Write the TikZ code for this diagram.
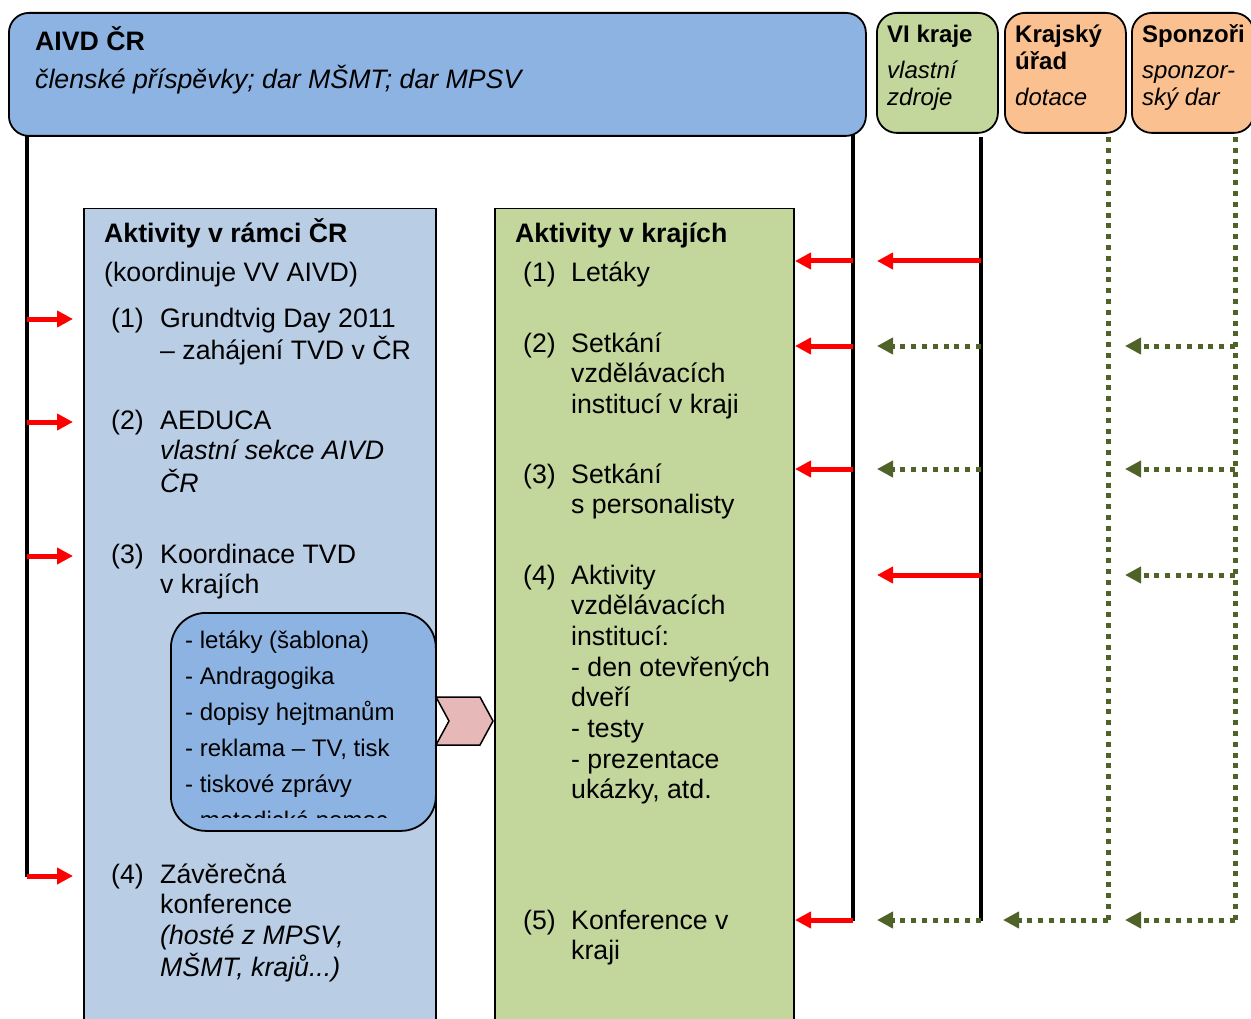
\documentclass[tikz,border=0pt]{standalone}
\usepackage{fontspec}
\setmainfont{Liberation Sans}
\usetikzlibrary{arrows.meta}
\definecolor{topblue}{HTML}{8DB3E2}
\definecolor{lightblue}{HTML}{B9CDE5}
\definecolor{lgreen}{HTML}{C3D69B}
\definecolor{lorange}{HTML}{FAC090}
\definecolor{chev}{HTML}{E6B9B8}
\definecolor{arrred}{HTML}{FF0000}
\definecolor{arrgreen}{HTML}{4F6228}
\newcommand\blk[1]{\begin{tabular}[t]{@{}l@{}}#1\end{tabular}}
\begin{document}
\begin{tikzpicture}[x=1pt,y=-1pt,
  rbox/.style={draw=black, line width=1.8pt, rounded corners=20pt, anchor=north west, inner sep=0pt},
  sqbox/.style={draw=black, line width=1.5pt, anchor=north west, inner sep=0pt},
  txt/.style={inner sep=0pt, anchor=base west, font=\fontsize{26.7}{30.7}\selectfont},
  small/.style={inner sep=0pt, anchor=base west, font=\fontsize{24}{27}\selectfont},
  listtxt/.style={inner sep=0pt, anchor=base west, font=\fontsize{24}{36}\selectfont},
  blackline/.style={draw=black, line width=4.5pt},
  redarr/.style={draw=arrred, line width=5pt, -{Triangle[length=16pt,width=16pt]}},
  greendot/.style={draw=arrgreen, line width=5pt, dash pattern=on 5pt off 5.8pt},
  greenarr/.style={greendot, -{Triangle[length=16pt,width=16pt]}}
]
\clip (0,0) rectangle (1251,1019);
\fill[white] (0,0) rectangle (1251,1019);

% top boxes
\node[rbox, fill=topblue, minimum width=857pt, minimum height=123pt] (aivd) at (8,12) {};
\node[rbox, fill=lgreen, minimum width=121pt, minimum height=120pt] (vi) at (876,12) {};
\node[rbox, fill=lorange, minimum width=121pt, minimum height=120pt] (ku) at (1004,12) {};
\node[rbox, fill=lorange, minimum width=122pt, minimum height=120pt] (sp) at (1131,12) {};

\node[txt, font=\fontsize{26.7}{30.7}\selectfont\bfseries] (aivdt) at (35,51) {AIVD ČR};
\node[txt, font=\fontsize{26.7}{30.7}\selectfont\itshape] (aivds) at (35,89) {členské příspěvky; dar MŠMT; dar MPSV};

\node[small, font=\fontsize{24}{27}\selectfont\bfseries] (vit) at (887,43) {VI kraje};
\node[small, font=\fontsize{24}{27}\selectfont\itshape] (vis) at (887,79) {\blk{vlastní\\zdroje}};
\node[small, font=\fontsize{24}{27}\selectfont\bfseries] (kut) at (1015,43) {\blk{Krajský\\úřad}};
\node[small, font=\fontsize{24}{27}\selectfont\itshape] (kus) at (1015,106) {dotace};
\node[small, font=\fontsize{24}{27}\selectfont\bfseries] (spt) at (1142,43) {Sponzoři};
\node[small, font=\fontsize{24}{27}\selectfont\itshape] (sps) at (1142,79) {\blk{sponzor-\\ský dar}};

% main boxes
\node[sqbox, fill=lightblue, minimum width=352pt, minimum height=830pt] (cr) at (83,208) {};
\node[sqbox, fill=lgreen, minimum width=299pt, minimum height=830pt] (kr) at (494,208) {};

% left box text
\node[txt, font=\fontsize{26.7}{30.7}\selectfont\bfseries] (crh) at (104,243) {Aktivity v rámci ČR};
\node[txt] (crs) at (104,282) {(koordinuje VV AIVD)};
\node[txt] (n1) at (111,327) {(1)};
\node[txt] (t1) at (160,327) {\blk{Grundtvig Day 2011\\– zahájení TVD v ČR}};
\node[txt] (n2) at (111,429) {(2)};
\node[txt] (t2) at (160,429) {\blk{AEDUCA\\\itshape vlastní sekce AIVD\\\itshape ČR}};
\node[txt] (n3) at (111,563) {(3)};
\node[txt] (t3) at (160,563) {\blk{Koordinace TVD\\v krajích}};
\node[txt] (n4) at (111,883) {(4)};
\node[txt] (t4) at (160,883) {\blk{Závěrečná\\konference\\\itshape (hosté z MPSV,\\\itshape MŠMT, krajů...)}};

% inner rounded list box
\node[draw=black, line width=1.8pt, rounded corners=35pt, anchor=north west, inner sep=0pt,
      fill=topblue, minimum width=265pt, minimum height=218pt] (lst) at (170,612) {};
\begin{scope}
\clip (172,614) rectangle (433,817);
\node[listtxt] (lstt) at (185,648) {\blk{- letáky (šablona)\\- Andragogika\\- dopisy hejtmanům\\- reklama – TV, tisk\\- tiskové zprávy\\- metodická pomoc}};
\end{scope}

% chevron
\draw[fill=chev, line width=1.5pt, line join=miter] (436,697) -- (480,697) -- (493,721) -- (480,745) -- (436,745) -- (449,721) -- cycle;

% right box text
\node[txt, font=\fontsize{26.7}{30.7}\selectfont\bfseries] (krh) at (515,243) {Aktivity v krajích};
\node[txt] (m1) at (523,282) {(1)};
\node[txt] (u1) at (571,282) {Letáky};
\node[txt] (m2) at (523,352) {(2)};
\node[txt] (u2) at (571,352) {\blk{Setkání\\vzdělávacích\\institucí v kraji}};
\node[txt] (m3) at (523,483) {(3)};
\node[txt] (u3) at (571,483) {\blk{Setkání\\s personalisty}};
\node[txt] (m4) at (523,584) {(4)};
\node[txt] (u4) at (571,584) {\blk{Aktivity\\vzdělávacích\\institucí:\\- den otevřených\\dveří\\- testy\\- prezentace\\ukázky, atd.}};
\node[txt] (m5) at (523,929) {(5)};
\node[txt] (u5) at (571,929) {\blk{Konference v\\kraji}};

% connector coordinates
\coordinate (A0) at (27,135);   \coordinate (A1) at (27,877);
\coordinate (B0) at (853,135);  \coordinate (B1) at (853,921);
\coordinate (C0) at (981,137);  \coordinate (C1) at (981,921);
\coordinate (D0) at (1108,137); \coordinate (D1) at (1108,921);
\coordinate (E0) at (1235,137); \coordinate (E1) at (1235,921);

\draw[blackline] (A0) -- (A1);
\draw[blackline] (B0) -- (B1);
\draw[blackline] (C0) -- (C1);
\draw[greendot] (D0) -- (D1);
\draw[greendot] (E0) -- (E1);

% red arrows into left box
\foreach \y in {319,422,556,876} {
  \draw[redarr] (27,\y) -- (73,\y);
}
% red arrows into right box
\foreach \y in {261,346,469,920} {
  \draw[redarr] (853,\y) -- (795,\y);
}
% from VI kraje line
\foreach \y in {261,575} {
  \draw[redarr] (981,\y) -- (877,\y);
}
\foreach \y in {346,469,920} {
  \draw[greenarr] (981,\y) -- (877,\y);
}
% from Krajsky urad
\draw[greenarr] (1108,920) -- (1003,920);
% from Sponzori
\foreach \y in {346,469,575,920} {
  \draw[greenarr] (1235,\y) -- (1125,\y);
}
\end{tikzpicture}
\end{document}
